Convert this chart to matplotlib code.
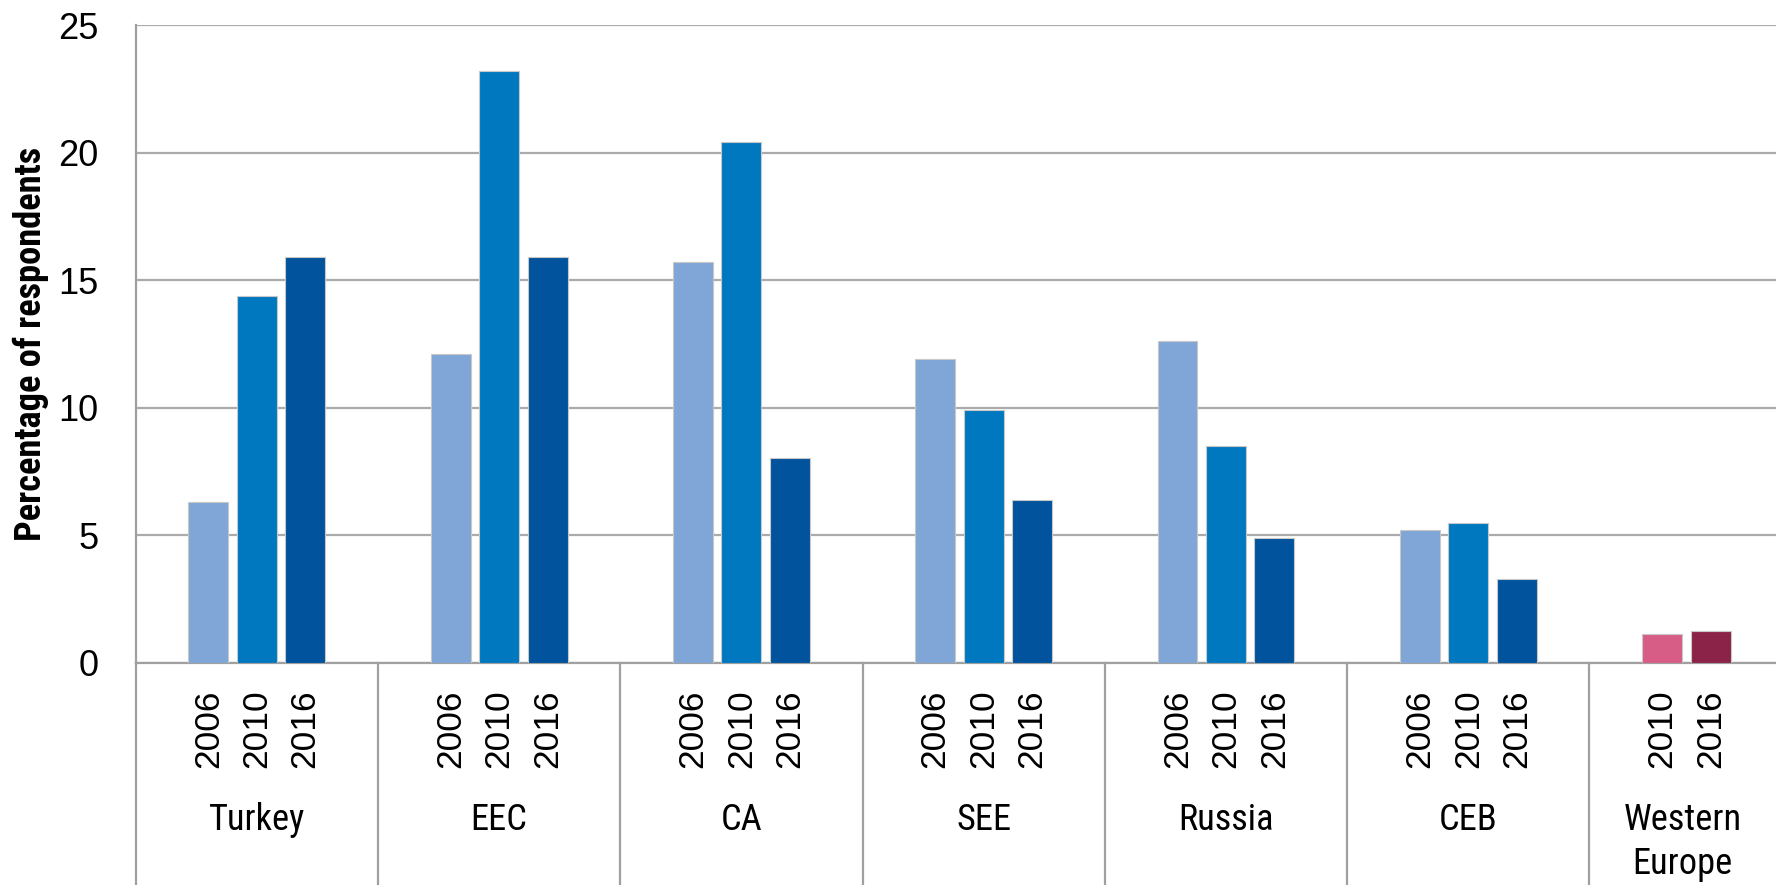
import os
import matplotlib
matplotlib.use("Agg")
import matplotlib.pyplot as plt
from matplotlib import font_manager as fm

# ---- data ----
regions = ["Turkey", "EEC", "CA", "SEE", "Russia", "CEB", "Western\nEurope"]
years = ["2006", "2010", "2016"]
vals_2006 = [6.3, 12.1, 15.7, 11.9, 12.6, 5.2, None]
vals_2010 = [14.4, 23.2, 20.4, 9.9, 8.5, 5.5, 1.15]
vals_2016 = [15.9, 15.9, 8.05, 6.4, 4.9, 3.3, 1.25]
y_ticks = [0, 5, 10, 15, 20, 25]
ylabel = "Percentage of respondents"

blue_colors = ["#7FA6D6", "#0078BF", "#00539C"]
we_colors = {"2010": "#D75D86", "2016": "#8B2247"}


# ---- condensed font lookup ----
def _wnum(w):
    if isinstance(w, (int, float)):
        return w
    return fm.weight_dict.get(w, 400)


def find_condensed(target_weight):
    prefixes = ["liberationsansnarrow", "arialnarrow", "robotocondensed",
                "notosans-condensed", "opensans-condensed", "opensanscondensed",
                "dejavusanscondensed"]
    for pre in prefixes:
        cands = []
        for f in fm.fontManager.ttflist:
            base = os.path.basename(f.fname).lower()
            if not base.startswith(pre):
                continue
            if "italic" in base or "oblique" in base or "semi" in base or "extra" in base:
                continue
            cands.append(f)
        if cands:
            best = min(cands, key=lambda f: abs(_wnum(f.weight) - target_weight))
            return fm.FontProperties(fname=best.fname)
    fp = fm.FontProperties(family="DejaVu Sans")
    fp.set_stretch("condensed")
    if target_weight >= 600:
        fp.set_weight("bold")
    return fp


fp_reg = find_condensed(400)
fp_bold = find_condensed(700)

fig = plt.figure(figsize=(17.76, 8.85), dpi=100)
ax = fig.add_axes([135.6 / 1776, (885 - 663) / 885, 1 - 135.6 / 1776, (663 - 25) / 885])
renderer = fig.canvas.get_renderer()


def fit_size(fp, text, target_w, max_size):
    p = fp.copy()
    p.set_size(20)
    t = fig.text(0, 0, text, fontproperties=p)
    w = t.get_window_extent(renderer).width
    t.remove()
    return min(max_size, 20 * target_w / w)


xmax = 6.27
ax.set_xlim(-0.5, xmax)
ax.set_ylim(0, 25)

width = 0.165
offsets = [-0.2, 0.0, 0.2]
series = [vals_2006, vals_2010, vals_2016]
tick_pos, tick_lab = [], []
n = len(regions)
for gi in range(n):
    is_we = gi == n - 1
    present = [(yi, s[gi]) for yi, s in enumerate(series) if s[gi] is not None]
    for slot, (yi, v) in enumerate(present):
        x = gi + offsets[slot]
        c = we_colors[years[yi]] if is_we else blue_colors[yi]
        ax.bar(x, v, width=width, color=c, edgecolor="#c8c8c8", linewidth=0.8, zorder=3)
        tick_pos.append(x)
        tick_lab.append(years[yi])

ax.set_yticks(y_ticks)
ax.set_yticklabels([str(t) for t in y_ticks], fontsize=26, family="Liberation Sans")
ax.tick_params(axis="y", length=0, pad=26.5)
ax.yaxis.grid(True, color="#ababab", linewidth=1.6, zorder=0)
ax.set_axisbelow(True)

ax.set_xticks(tick_pos)
ax.set_xticklabels(tick_lab, rotation=90, fontsize=25.5, family="Liberation Sans",
                   va="top", ha="center")
ax.tick_params(axis="x", length=0, pad=19)

for sp in ["top", "right"]:
    ax.spines[sp].set_visible(False)
for sp in ["left", "bottom"]:
    ax.spines[sp].set_color("#a0a0a0")
    ax.spines[sp].set_linewidth(1.6)

# category label font size fitted to the reference width of "Turkey"
cat_size = fit_size(fp_reg, "Turkey", 96, 27)
fp_cat = fp_reg.copy()
fp_cat.set_size(cat_size)

axes_h = 663 - 25
xt = ax.get_xaxis_transform()
for gi in range(n):
    ax.plot([gi - 0.5, gi - 0.5], [0, -0.5], transform=xt, clip_on=False,
            color="#a0a0a0", linewidth=1.6, zorder=1)
    lines = regions[gi].split("\n")
    if gi == n - 1:
        cx = (gi - 0.5 + xmax) / 2
    else:
        cx = gi
    for li, line in enumerate(lines):
        base_px = 830 + li * 44
        ax.text(cx, -(base_px - 663) / axes_h, line, transform=xt, ha="center",
                va="baseline", fontproperties=fp_cat)

ylab_size = fit_size(fp_bold, ylabel, 393, 27)
fp_ylab = fp_bold.copy()
fp_ylab.set_size(ylab_size)
ax.set_ylabel(ylabel, fontproperties=fp_ylab, va="center")
ax.yaxis.set_label_coords(-0.0641, 0.50)

fig.savefig("out.png", dpi=100)
